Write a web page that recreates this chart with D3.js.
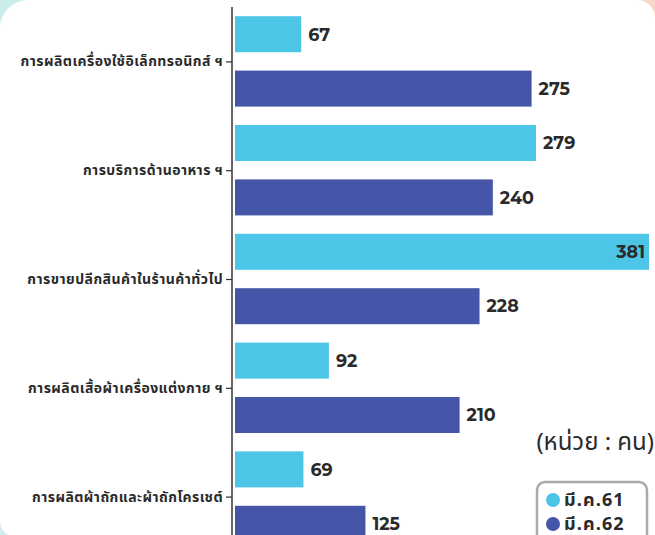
<!DOCTYPE html>
<html>
<head>
<meta charset="utf-8">
<script src="https://cdn.jsdelivr.net/npm/d3@7/dist/d3.min.js"></script>
<style>
html,body{margin:0;padding:0;background:#fff;}
svg{display:block;}
</style>
</head>
<body>
<svg id="chart" width="655" height="535"></svg>
<script>
const categories = [
  "การผลิตเครื่องใช้อิเล็กทรอนิกส์ ฯ",
  "การบริการด้านอาหาร ฯ",
  "การขายปลีกสินค้าในร้านค้าทั่วไป",
  "การผลิตเสื้อผ้าเครื่องแต่งกาย ฯ",
  "การผลิตผ้าถักและผ้าถักโครเชต์"
];
const seriesNames = ["มี.ค.61", "มี.ค.62"];
const values61 = [67, 279, 381, 92, 69];
const values62 = [275, 240, 228, 210, 125];
const unitLabel = "(หน่วย : คน)";
const colors = ["#4DC5E7", "#4556A8"];

const svg = d3.select("#chart");
const W = 655, H = 535;
const thaiFont = "'Noto Sans Thai', 'Noto Sans Thai Looped', 'Noto Sans', sans-serif";

// background corners
svg.append("rect").attr("width", W).attr("height", H).attr("fill", "#fff");
svg.append("path")
  .attr("d", "M0,0 L28,0 A28,28 0 0 0 0,28 Z")
  .attr("fill", "#9FDCDC").attr("opacity", 0.55);
svg.append("path")
  .attr("d", "M638,0 L655,0 L655,18 A18,18 0 0 0 638,0 Z")
  .attr("fill", "#F4C9B4").attr("opacity", 0.7);
svg.append("path")
  .attr("d", "M0,518 A18,18 0 0 0 8,535 L0,535 Z")
  .attr("fill", "#9FDCDC").attr("opacity", 0.5);

const data = categories.map((c, i) => ({cat: c, vals: [values61[i], values62[i]]}));

const x = d3.scaleLinear().domain([0, 381]).range([227, 649]);
const y0 = d3.scaleBand().domain(categories).range([7, 551]).padding(0);
const y1 = d3.scaleBand().domain([0, 1]).range([0, y0.bandwidth()])
  .paddingInner(0.338).paddingOuter(0.169);

svg.append("defs").append("clipPath").attr("id", "clipBars")
  .append("rect").attr("x", 235).attr("y", 0).attr("width", W - 235).attr("height", H);

const groups = svg.append("g").selectAll("g").data(data).join("g")
  .attr("transform", d => `translate(0,${y0(d.cat)})`);

groups.selectAll("rect").data(d => d.vals.map((v, s) => ({v, s})))
  .join("rect")
  .attr("clip-path", "url(#clipBars)")
  .attr("x", x(0))
  .attr("y", d => y1(d.s))
  .attr("width", d => x(d.v) - x(0))
  .attr("height", y1.bandwidth())
  .attr("fill", d => colors[d.s]);

const maxVal = d3.max([...values61, ...values62]);
groups.selectAll("text.val").data(d => d.vals.map((v, s) => ({v, s})))
  .join("text")
  .attr("class", "val")
  .attr("x", d => d.v === maxVal ? x(d.v) - 4 : x(d.v) + 7)
  .attr("y", d => y1(d.s) + y1.bandwidth() / 2)
  .attr("dy", "0.36em")
  .attr("text-anchor", d => d.v === maxVal ? "end" : "start")
  .attr("font-family", "Montserrat, 'Noto Sans', 'Open Sans', sans-serif")
  .attr("font-weight", 700)
  .attr("font-size", 17.5)
  .attr("fill", "#2a2a2a")
  .text(d => d.v);

// y axis
const yAxisScale = d3.scalePoint().domain(categories)
  .range([y0(categories[0]) + y0.bandwidth() / 2, y0(categories[4]) + y0.bandwidth() / 2]);
const axisG = svg.append("g").attr("transform", "translate(232,0)")
  .call(d3.axisLeft(yAxisScale).tickSize(6).tickPadding(3).tickSizeOuter(0));
axisG.select(".domain").remove();
axisG.append("line").attr("x1", 0).attr("x2", 0).attr("y1", 7).attr("y2", H)
  .attr("stroke", "#333").attr("stroke-width", 1.5);
axisG.selectAll(".tick line").attr("stroke", "#333").attr("stroke-width", 1.2);
axisG.selectAll(".tick text")
  .attr("font-family", thaiFont)
  .attr("font-weight", 700)
  .attr("font-size", 14)
  .attr("letter-spacing", 0.45)
  .attr("fill", "#2a2a2a");

// unit label
svg.append("text")
  .attr("x", 654).attr("y", 441).attr("dy", "0.36em")
  .attr("text-anchor", "end")
  .attr("font-family", thaiFont)
  .attr("font-size", 24)
  .attr("fill", "#2a2a2a")
  .text(unitLabel);

// legend
const lg = svg.append("g");
lg.append("rect").attr("x", 537).attr("y", 482).attr("width", 110).attr("height", 70)
  .attr("rx", 8).attr("fill", "#fff").attr("stroke", "#aaa").attr("stroke-width", 2.5);
const items = lg.selectAll("g.item").data(seriesNames).join("g")
  .attr("transform", (d, i) => `translate(553,${500 + i * 24})`);
items.append("circle").attr("r", 7).attr("fill", (d, i) => colors[i]);
items.append("text").attr("x", 11).attr("dy", "0.34em")
  .attr("font-family", thaiFont)
  .attr("font-weight", 700).attr("font-size", 18)
  .attr("letter-spacing", 1.1)
  .attr("fill", "#2a2a2a")
  .text(d => d);
</script>
</body>
</html>
